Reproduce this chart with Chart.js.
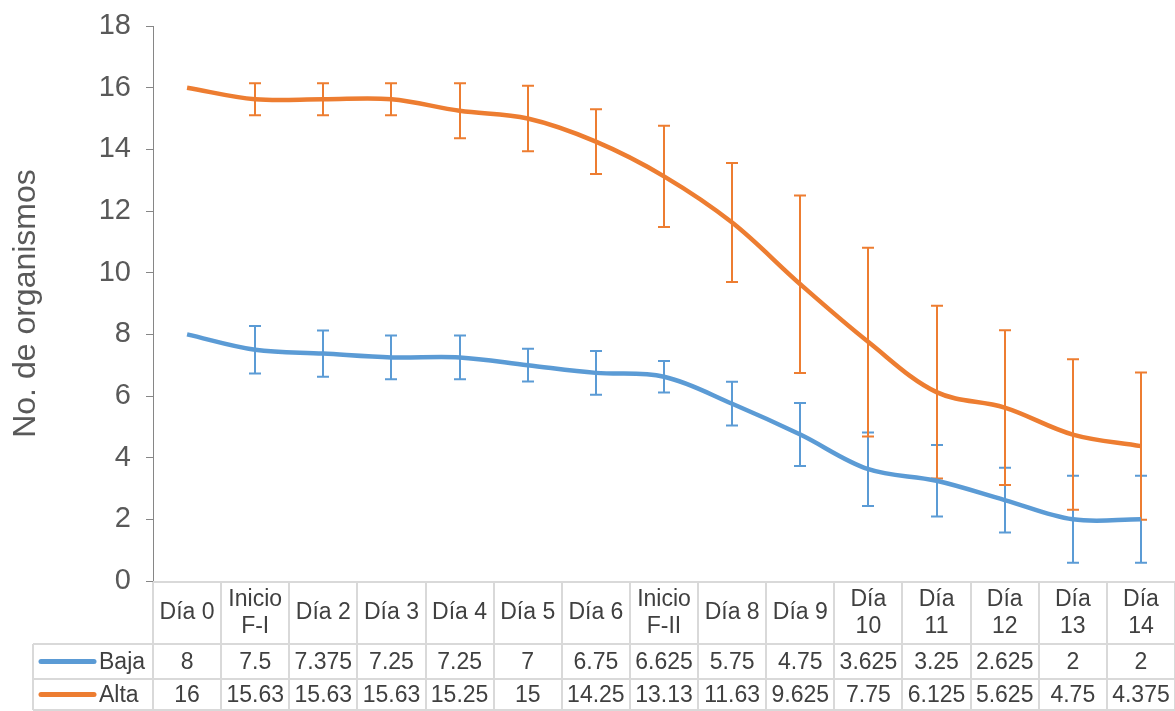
<!DOCTYPE html>
<html><head><meta charset="utf-8">
<script src="https://cdn.jsdelivr.net/npm/chart.js@4.4.1/dist/chart.umd.min.js"></script>
<style>html,body{margin:0;padding:0;background:#fff;overflow:hidden}#wrap{width:1175px;height:711px;position:relative}</style>
</head><body><div id="wrap"><canvas id="c" width="1175" height="711"></canvas></div>
<script>
const categories = [["Día 0"],["Inicio","F-I"],["Día 2"],["Día 3"],["Día 4"],["Día 5"],["Día 6"],["Inicio","F-II"],["Día 8"],["Día 9"],["Día","10"],["Día","11"],["Día","12"],["Día","13"],["Día","14"]];
const seriesNames = ["Baja","Alta"];
const baja = [8,7.5,7.375,7.25,7.25,7,6.75,6.625,5.75,4.75,3.625,3.25,2.625,2,2];
const alta = [16,15.625,15.625,15.625,15.25,15,14.25,13.125,11.625,9.625,7.75,6.125,5.625,4.75,4.375];
const bajaErr = [0,0.77,0.75,0.71,0.71,0.53,0.71,0.51,0.71,1.02,1.19,1.16,1.05,1.41,1.41];
const altaErr = [0,0.52,0.52,0.52,0.89,1.06,1.05,1.64,1.93,2.88,3.06,2.8,2.51,2.44,2.39];
const yMin = 0, yMax = 18, yStep = 2;
const colors = ["#5B9BD5","#ED7D31"];
const FONT = "'Liberation Sans', Arial, sans-serif";

function fmt(v){
  if (Math.abs(v) >= 10) return String(parseFloat(v.toFixed(2)));
  return String(parseFloat(v.toFixed(3)));
}

const tablePlugin = {
  id: 'tablePlugin',
  beforeDatasetsDraw(chart){
    const ctx = chart.ctx, xs = chart.scales.x, ys = chart.scales.y;
    const sets = [[baja,bajaErr],[alta,altaErr]];
    ctx.save();
    sets.forEach((s,k)=>{
      ctx.strokeStyle = colors[k];
      ctx.lineWidth = 2;
      s[0].forEach((v,i)=>{
        const e = s[1][i];
        if (!e) return;
        const x = Math.round(xs.getPixelForValue(i));
        const yt = ys.getPixelForValue(v+e), yb = ys.getPixelForValue(v-e);
        ctx.beginPath();
        ctx.moveTo(x, yt); ctx.lineTo(x, yb);
        ctx.moveTo(x-6, yt); ctx.lineTo(x+6, yt);
        ctx.moveTo(x-6, yb); ctx.lineTo(x+6, yb);
        ctx.stroke();
      });
    });
    ctx.restore();
  },
  afterDraw(chart){
    const ctx = chart.ctx, xs = chart.scales.x, ca = chart.chartArea;
    const n = categories.length;
    const colW = (xs.right - xs.left)/n;
    const top = ca.bottom + 1, hb = 644, rb1 = 679, rb2 = 710, legL = 33;
    ctx.save();
    ctx.strokeStyle = '#D9D9D9';
    ctx.lineWidth = 2;
    ctx.beginPath();
    ctx.moveTo(xs.left, top); ctx.lineTo(xs.right, top);
    [hb, rb1, rb2].forEach(y=>{ ctx.moveTo(legL, y); ctx.lineTo(xs.right, y); });
    for (let i=0;i<=n;i++){
      const x = Math.round(xs.left + i*colW);
      ctx.moveTo(x, top); ctx.lineTo(x, rb2);
    }
    ctx.moveTo(legL, hb); ctx.lineTo(legL, rb2);
    ctx.stroke();

    ctx.fillStyle = '#404040';
    ctx.font = '23px ' + FONT;
    ctx.textAlign = 'center';
    ctx.textBaseline = 'middle';
    const hc = (top+hb)/2;
    categories.forEach((lab,i)=>{
      const x = xs.getPixelForValue(i);
      if (lab.length === 1) ctx.fillText(lab[0], x, hc);
      else { ctx.fillText(lab[0], x, hc-13.5); ctx.fillText(lab[1], x, hc+13.5); }
    });
    const rows = [[baja,(hb+rb1)/2],[alta,(rb1+rb2)/2]];
    rows.forEach((r,k)=>{
      r[0].forEach((v,i)=>{ ctx.fillText(fmt(v), xs.getPixelForValue(i), r[1]+1); });
      ctx.strokeStyle = colors[k];
      ctx.lineWidth = 5;
      ctx.lineCap = 'round';
      ctx.beginPath(); ctx.moveTo(41, r[1]); ctx.lineTo(94, r[1]); ctx.stroke();
      ctx.textAlign = 'left';
      ctx.fillText(seriesNames[k], 99, r[1]+1);
      ctx.textAlign = 'center';
    });
    ctx.restore();
  }
};

new Chart(document.getElementById('c'), {
  type: 'line',
  data: {
    labels: categories,
    datasets: [
      {label: seriesNames[0], data: baja, borderColor: colors[0], backgroundColor: colors[0], borderWidth: 4.5, pointRadius: 0, tension: 0.35, fill: false},
      {label: seriesNames[1], data: alta, borderColor: colors[1], backgroundColor: colors[1], borderWidth: 4.5, pointRadius: 0, tension: 0.35, fill: false}
    ]
  },
  options: {
    responsive: false,
    devicePixelRatio: 1,
    animation: false,
    layout: {padding: {top: 26, bottom: 130, left: 0, right: 0}},
    plugins: {legend: {display: false}, tooltip: {enabled: false}},
    scales: {
      x: {type: 'category', display: false, offset: true},
      y: {
        min: yMin, max: yMax,
        ticks: {stepSize: yStep, font: {size: 29, family: FONT}, color: '#595959', padding: 15},
        grid: {drawOnChartArea: false, drawTicks: true, tickLength: 7, color: '#868686'},
        border: {display: true, color: '#868686', width: 1},
        title: {display: true, text: 'No. de organismos', font: {size: 32, family: FONT}, color: '#595959', padding: {top: 7, bottom: 0}},
        afterFit(scale){ scale.width = 153; scale.paddingTop = 0; scale.paddingBottom = 0; }
      }
    }
  },
  plugins: [tablePlugin]
});
</script></body></html>
